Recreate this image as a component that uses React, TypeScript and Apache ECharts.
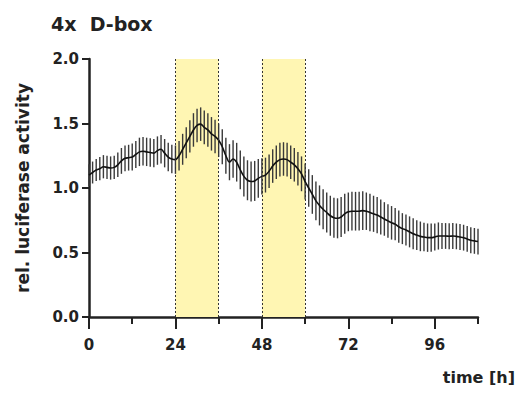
import React, { useEffect, useRef } from "react";
import * as echarts from "echarts";

const hours: number[] = Array.from({ length: 109 }, (_, i) => i);

const meanValues: number[] = [
  1.10, 1.12, 1.14, 1.15, 1.165, 1.16, 1.155, 1.16, 1.18, 1.21,
  1.23, 1.235, 1.24, 1.26, 1.28, 1.285, 1.28, 1.275, 1.27, 1.29,
  1.30, 1.27, 1.24, 1.225, 1.22, 1.25, 1.30, 1.35, 1.40, 1.45,
  1.485, 1.495, 1.47, 1.45, 1.42, 1.40, 1.37, 1.32, 1.25, 1.20,
  1.225, 1.20, 1.14, 1.09, 1.06, 1.05, 1.055, 1.075, 1.09, 1.10,
  1.13, 1.17, 1.20, 1.22, 1.225, 1.22, 1.20, 1.18, 1.15, 1.11,
  1.05, 1.00, 0.95, 0.90, 0.865, 0.835, 0.81, 0.785, 0.77, 0.765,
  0.775, 0.80, 0.815, 0.82, 0.82, 0.82, 0.825, 0.82, 0.81, 0.80,
  0.79, 0.775, 0.76, 0.745, 0.73, 0.72, 0.70, 0.685, 0.675, 0.66,
  0.645, 0.635, 0.625, 0.62, 0.615, 0.615, 0.62, 0.628, 0.628, 0.628,
  0.626, 0.628, 0.625, 0.62, 0.615, 0.605, 0.595, 0.59, 0.585,
];

const errValues: number[] = [
  0.085, 0.085, 0.085, 0.09, 0.09, 0.09, 0.09, 0.09, 0.095, 0.10,
  0.10, 0.10, 0.105, 0.105, 0.11, 0.11, 0.11, 0.11, 0.11, 0.11,
  0.11, 0.11, 0.11, 0.11, 0.11, 0.115, 0.12, 0.12, 0.125, 0.13,
  0.13, 0.13, 0.13, 0.13, 0.13, 0.13, 0.13, 0.135, 0.14, 0.14,
  0.145, 0.15, 0.15, 0.155, 0.155, 0.155, 0.155, 0.15, 0.14, 0.135,
  0.13, 0.13, 0.13, 0.13, 0.13, 0.13, 0.13, 0.13, 0.13, 0.135,
  0.14, 0.145, 0.15, 0.15, 0.155, 0.155, 0.155, 0.155, 0.155, 0.155,
  0.155, 0.155, 0.15, 0.15, 0.15, 0.15, 0.15, 0.145, 0.145, 0.14,
  0.14, 0.135, 0.13, 0.13, 0.13, 0.125, 0.125, 0.12, 0.12, 0.12,
  0.12, 0.115, 0.115, 0.11, 0.11, 0.11, 0.105, 0.105, 0.10, 0.10,
  0.10, 0.10, 0.10, 0.10, 0.10, 0.10, 0.10, 0.10, 0.10,
];

const lightBands: [number, number][] = [
  [24, 36],
  [48, 60],
];

const xMajorTicks: number[] = [0, 24, 48, 72, 96];

const FONT = "'DejaVu Sans', 'Liberation Sans', Arial, sans-serif";

export default function App() {
  const ref = useRef<HTMLDivElement>(null);

  useEffect(() => {
    document.body.style.margin = "0";
    if (!ref.current) return;
    const chart = echarts.init(ref.current, null, { renderer: "svg" });

    const lineData = hours.map((h, i) => [h, meanValues[i]]);
    const errData = hours.map((h, i) => [
      h,
      meanValues[i] - errValues[i],
      meanValues[i] + errValues[i],
    ]);

    const bandLines: number[] = [];
    lightBands.forEach(([a, b]) => bandLines.push(a, b));

    const option: any = {
      animation: false,
      backgroundColor: "#ffffff",
      title: {
        text: "4x  D-box",
        left: 46,
        top: 9,
        textStyle: { fontFamily: FONT, fontSize: 19, fontWeight: "bold", color: "#222" },
      },
      grid: { left: 89, right: 40, top: 59, bottom: 79, containLabel: false },
      xAxis: [
        {
          type: "value",
          min: 0,
          max: 108,
          interval: 12,
          axisLine: { show: true, lineStyle: { color: "#222", width: 2.5 } },
          axisTick: { show: true, length: 7, lineStyle: { color: "#222", width: 2 } },
          axisLabel: { show: false },
          splitLine: { show: false },
        },
        {
          type: "value",
          min: 0,
          max: 108,
          interval: 12,
          position: "bottom",
          axisLine: { show: false },
          axisTick: {
            show: true,
            length: 12,
            customValues: xMajorTicks,
            lineStyle: { color: "#222", width: 2 },
          },
          axisLabel: {
            show: true,
            customValues: xMajorTicks,
            margin: 20,
            fontFamily: FONT,
            fontSize: 15,
            fontWeight: "bold",
            color: "#222",
          },
          splitLine: { show: false },
        },
      ],
      yAxis: {
        type: "value",
        min: 0,
        max: 2,
        interval: 0.5,
        name: "rel. luciferase activity",
        nameLocation: "middle",
        nameGap: 58,
        nameTextStyle: { fontFamily: FONT, fontSize: 17, fontWeight: "bold", color: "#222" },
        axisLine: { show: true, lineStyle: { color: "#222", width: 2.5 } },
        axisTick: { show: true, length: 7, lineStyle: { color: "#222", width: 2 } },
        axisLabel: {
          margin: 10,
          fontFamily: FONT,
          fontSize: 15,
          fontWeight: "bold",
          color: "#222",
          formatter: (v: number) => v.toFixed(1),
        },
        splitLine: { show: false },
      },
      graphic: [
        {
          type: "text",
          right: 3,
          top: 369,
          style: {
            text: "time [h]",
            font: `bold 16px ${FONT}`,
            fill: "#222",
          },
        },
      ],
      series: [
        {
          type: "line",
          data: [],
          z: 1,
          silent: true,
          markArea: {
            silent: true,
            itemStyle: { color: "#fff6b3" },
            data: lightBands.map(([a, b]) => [{ xAxis: a }, { xAxis: b }]),
          },
          markLine: {
            silent: true,
            symbol: ["none", "none"],
            label: { show: false },
            lineStyle: { color: "#333", width: 1, type: [2, 2] },
            data: bandLines.map((v) => ({ xAxis: v })),
          },
        },
        {
          type: "custom",
          z: 3,
          silent: true,
          data: errData,
          encode: { x: 0, y: [1, 2] },
          renderItem: (params: any, api: any) => {
            const x = api.value(0);
            const p1 = api.coord([x, api.value(1)]);
            const p2 = api.coord([x, api.value(2)]);
            return {
              type: "line",
              shape: { x1: p1[0], y1: p1[1], x2: p2[0], y2: p2[1] },
              style: { stroke: "#3a3a3a", lineWidth: 1.4 },
            };
          },
        },
        {
          type: "line",
          z: 4,
          data: lineData,
          smooth: 0.3,
          symbol: "none",
          lineStyle: { color: "#111", width: 1.6 },
        },
      ],
    };

    chart.setOption(option);
    return () => chart.dispose();
  }, []);

  return <div ref={ref} style={{ width: 518, height: 396 }} />;
}
